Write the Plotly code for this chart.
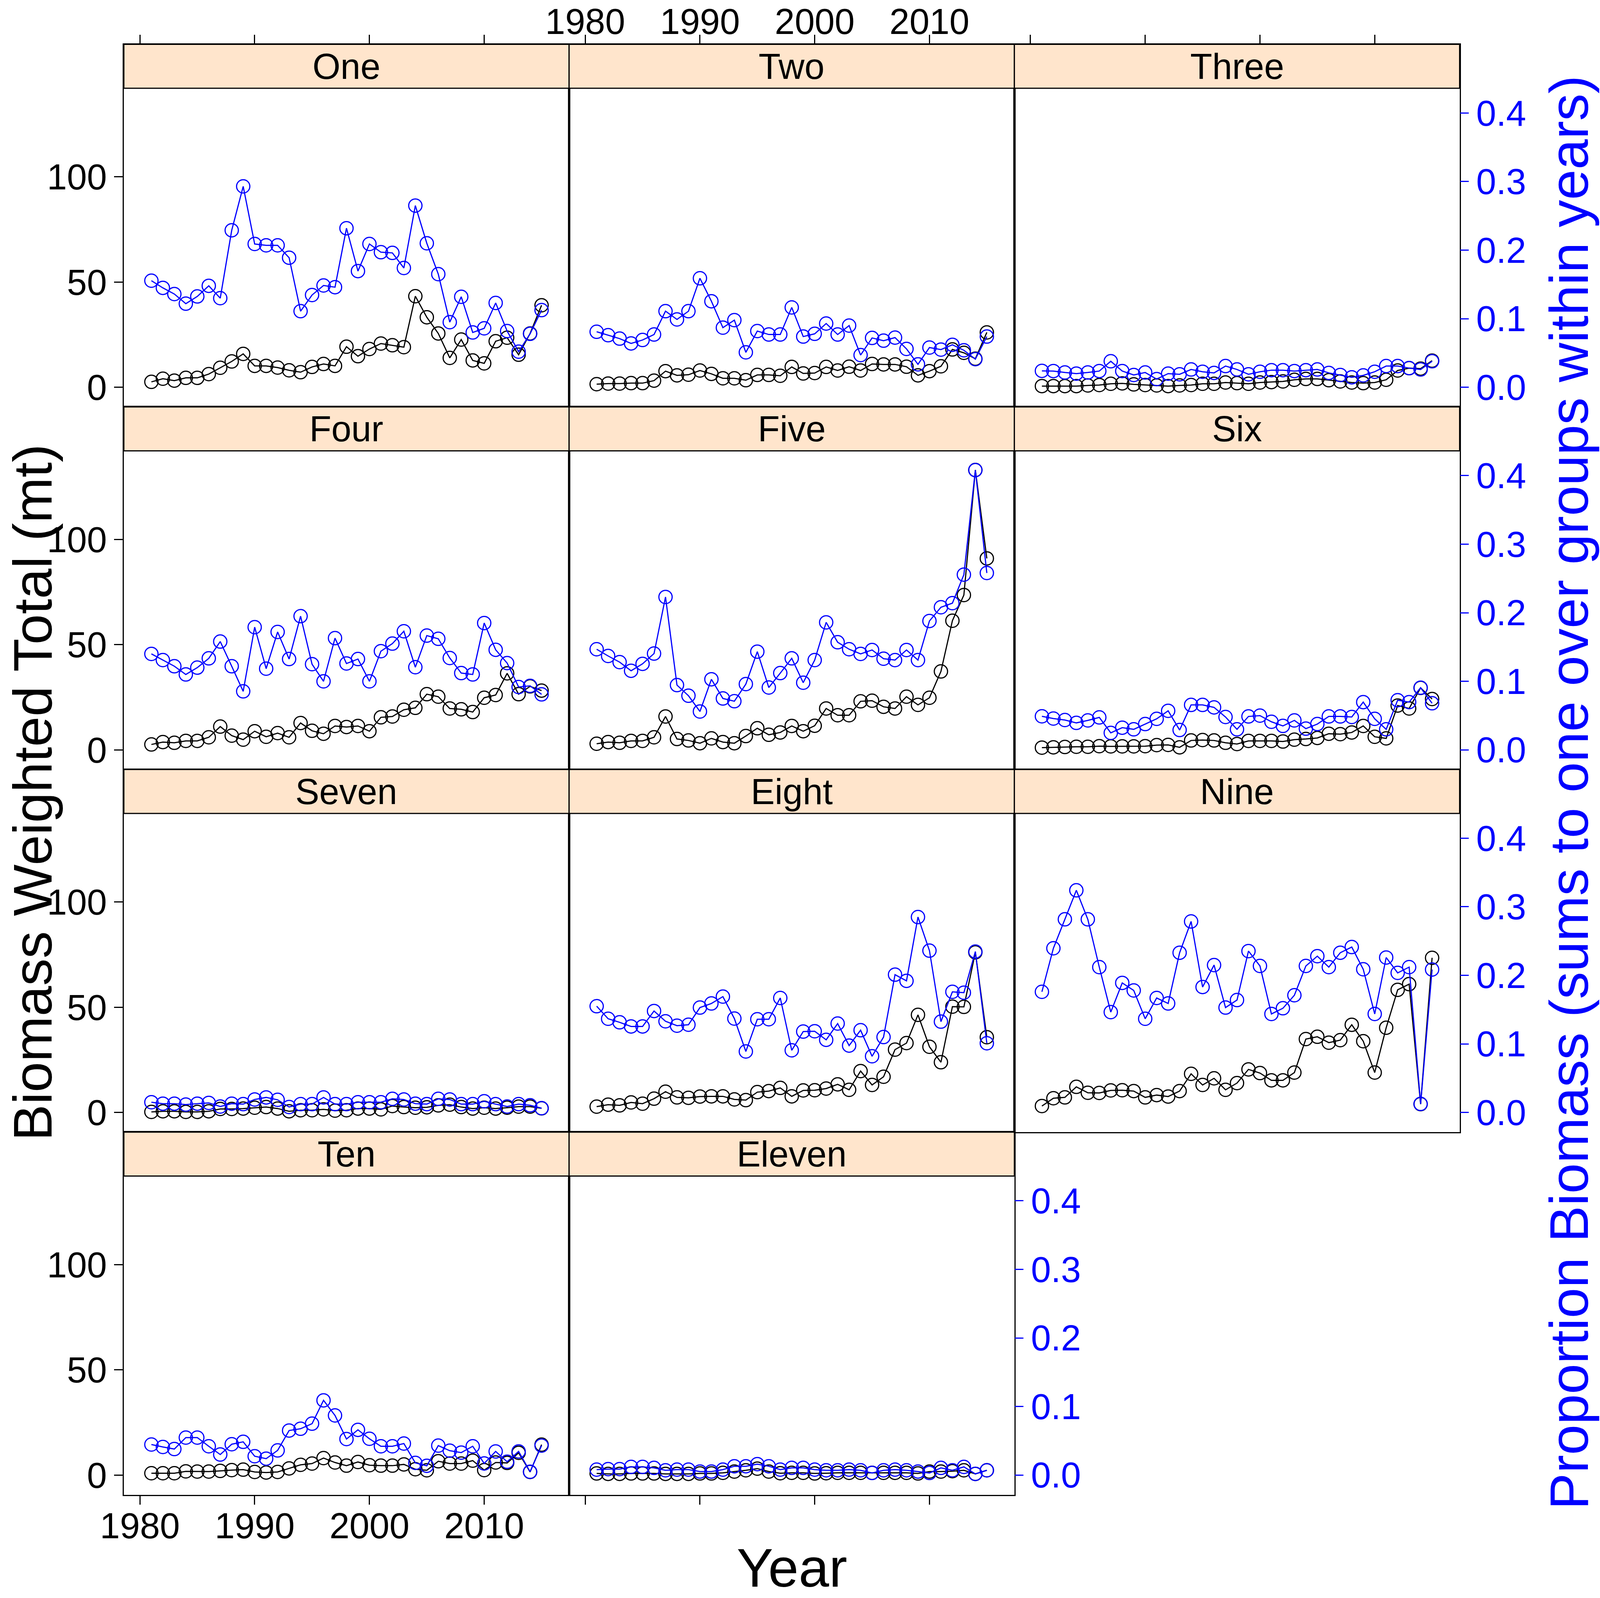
import plotly.graph_objects as go

# years on the x axis
years = [1981, 1982, 1983, 1984, 1985, 1986, 1987, 1988, 1989, 1990,
         1991, 1992, 1993, 1994, 1995, 1996, 1997, 1998, 1999, 2000,
         2001, 2002, 2003, 2004, 2005, 2006, 2007, 2008, 2009, 2010,
         2011, 2012, 2013, 2014, 2015]

groups = ["One", "Two", "Three", "Four", "Five", "Six",
          "Seven", "Eight", "Nine", "Ten", "Eleven"]

# biomass weighted total (mt), black series, left axis
one_total = [2.6, 4.1, 3.2, 4.5, 4.5, 6.3, 9.3, 12.3, 15.9, 10.2, 10.2, 9.4, 8.1, 7.2, 9.7, 11.1, 10.2, 19.3,
             14.8, 18.2, 20.8, 20.0, 19.1, 43.3, 33.3, 25.6, 14.0, 22.7, 12.8, 11.4, 21.9, 23.6, 15.5, 25.6, 39.0]
two_total = [1.5, 1.8, 1.8, 2.0, 2.0, 3.2, 7.7, 5.7, 6.0, 8.0, 6.4, 4.3, 4.3, 3.4, 5.9, 5.9, 5.5, 9.7,
             6.6, 6.8, 9.7, 8.0, 9.8, 8.0, 11.1, 10.9, 10.9, 9.8, 5.7, 7.7, 10.0, 18.0, 16.4, 13.6, 26.1]
three_total = [0.6, 0.6, 0.6, 0.6, 0.9, 1.1, 1.7, 1.9, 1.4, 1.1, 0.9, 0.6, 0.9, 1.1, 1.7, 1.7, 2.3, 2.0,
               1.7, 2.3, 2.5, 2.8, 3.6, 4.0, 4.0, 3.4, 2.8, 2.3, 2.0, 2.3, 3.6, 8.0, 9.1, 8.9, 12.7]
four_total = [2.6, 3.75, 3.4, 4.3, 4.3, 6.0, 11.1, 6.8, 4.9, 8.9, 6.25, 8.0, 6.0, 12.8, 9.1, 7.7, 11.4, 10.9,
              11.4, 8.9, 15.5, 15.9, 19.1, 20.0, 26.5, 25.3, 19.7, 19.3, 18.0, 24.8, 26.1, 36.4, 26.5, 30.2, 28.2]
five_total = [2.95, 3.75, 3.4, 4.3, 4.3, 6.0, 15.9, 5.2, 4.5, 3.2, 5.5, 3.75, 3.2, 6.6, 10.3, 7.2, 8.3, 11.4,
              8.9, 11.5, 19.7, 16.5, 16.5, 23.1, 23.4, 20.5, 19.7, 25.3, 21.4, 24.8, 37.3, 61.4, 73.6, 133.0, 91.0]
six_total = [1.1, 1.25, 1.4, 1.5, 1.5, 1.8, 1.7, 1.7, 1.7, 1.8, 2.3, 2.4, 1.25, 4.5, 4.7, 4.5, 3.4, 2.8,
             4.3, 4.3, 4.3, 4.0, 4.9, 5.2, 5.7, 7.7, 7.5, 8.3, 11.4, 6.25, 5.5, 21.1, 19.7, 29.5, 24.2]
seven_total = [0.3, 0.6, 0.6, 0.3, 0.3, 0.6, 1.7, 1.7, 1.9, 2.3, 2.6, 1.9, 0.6, 1.1, 1.1, 1.5, 0.9, 1.1,
               1.9, 1.9, 1.5, 3.1, 2.6, 2.3, 2.5, 3.4, 3.75, 2.6, 1.9, 2.3, 1.9, 2.3, 2.8, 2.8, 2.0]
eight_total = [2.8, 3.75, 3.4, 4.8, 4.2, 6.6, 9.9, 7.2, 7.0, 7.6, 7.7, 7.7, 6.25, 5.9, 9.7, 10.2, 11.7, 7.7,
               10.5, 10.6, 11.4, 13.4, 10.8, 19.7, 13.1, 17.0, 29.9, 33.0, 46.4, 31.25, 23.9, 50.3, 50.2, 76.1, 35.8]
nine_total = [3.1, 6.8, 7.2, 12.2, 9.4, 9.3, 10.5, 10.6, 10.2, 7.2, 8.3, 7.6, 10.2, 18.4, 13.1, 16.25, 10.8, 14.0,
              20.5, 18.75, 15.3, 15.3, 19.0, 34.9, 36.0, 33.2, 34.4, 41.7, 33.9, 19.0, 40.3, 58.3, 61.0, 4.0, 73.5]
ten_total = [0.9, 0.9, 0.9, 1.8, 1.7, 1.7, 2.0, 2.4, 2.6, 1.5, 1.25, 1.5, 3.2, 4.9, 5.5, 8.1, 6.0, 4.5,
             6.25, 4.7, 4.5, 4.5, 5.1, 2.8, 2.3, 6.6, 5.5, 5.5, 6.9, 2.4, 6.0, 5.8, 10.6, 1.5, 14.5]
eleven_total = [0.8, 0.6, 0.6, 0.8, 0.8, 0.8, 0.6, 0.6, 0.6, 0.8, 0.8, 1.1, 1.7, 2.3, 3.1, 1.7, 0.9, 1.1,
                1.1, 0.8, 0.9, 1.1, 1.1, 1.1, 1.1, 1.1, 1.1, 1.1, 0.8, 1.7, 1.7, 1.9, 2.3, 0.6, 2.3]

# proportion of biomass within year, blue series, right axis
one_prop = [0.1555, 0.145, 0.136, 0.122, 0.1325, 0.148, 0.130, 0.229, 0.293, 0.209, 0.207, 0.207, 0.189, 0.111,
            0.1346, 0.1485, 0.146, 0.232, 0.1695, 0.209, 0.197, 0.196, 0.174, 0.265, 0.210, 0.165, 0.095, 0.132,
            0.080, 0.086, 0.123, 0.082, 0.052, 0.078, 0.1126]
two_prop = [0.081, 0.076, 0.071, 0.064, 0.069, 0.077, 0.111, 0.099, 0.111, 0.159, 0.1255, 0.087, 0.098, 0.051,
            0.082, 0.077, 0.077, 0.1165, 0.074, 0.078, 0.093, 0.077, 0.090, 0.047, 0.072, 0.068, 0.0725, 0.056,
            0.0335, 0.058, 0.055, 0.062, 0.054, 0.041, 0.074]
three_prop = [0.024, 0.0237, 0.0216, 0.020, 0.0216, 0.0237, 0.038, 0.0237, 0.018, 0.0216, 0.012, 0.020, 0.019,
              0.026, 0.0227, 0.021, 0.031, 0.026, 0.019, 0.0227, 0.025, 0.025, 0.0237, 0.025, 0.026, 0.021, 0.018,
              0.0146, 0.0174, 0.0227, 0.031, 0.031, 0.028, 0.026, 0.038]
four_prop = [0.140, 0.131, 0.122, 0.110, 0.120, 0.1335, 0.158, 0.122, 0.0854, 0.179, 0.1185, 0.172, 0.1325, 0.195,
             0.125, 0.100, 0.163, 0.126, 0.1325, 0.100, 0.144, 0.155, 0.173, 0.1206, 0.1667, 0.162, 0.134, 0.112,
             0.110, 0.185, 0.146, 0.1266, 0.0917, 0.0934, 0.081]
five_prop = [0.1468, 0.137, 0.128, 0.1154, 0.1255, 0.1405, 0.223, 0.0945, 0.079, 0.056, 0.103, 0.075, 0.071, 0.096,
             0.1433, 0.091, 0.112, 0.1335, 0.098, 0.131, 0.186, 0.157, 0.1468, 0.140, 0.1457, 0.133, 0.131, 0.1457,
             0.131, 0.188, 0.208, 0.214, 0.2556, 0.408, 0.258]
six_prop = [0.049, 0.0457, 0.0436, 0.0394, 0.043, 0.0474, 0.0248, 0.0324, 0.030, 0.0377, 0.0453, 0.057, 0.029,
            0.0656, 0.0656, 0.062, 0.048, 0.030, 0.0488, 0.050, 0.041, 0.035, 0.043, 0.031, 0.0377, 0.0488, 0.0488,
            0.048, 0.0697, 0.0453, 0.030, 0.0725, 0.0697, 0.0907, 0.068]
seven_prop = [0.015, 0.0129, 0.0129, 0.0115, 0.0129, 0.014, 0.0087, 0.0129, 0.0122, 0.019, 0.022, 0.0185, 0.008,
              0.0122, 0.0122, 0.022, 0.0122, 0.0122, 0.015, 0.015, 0.015, 0.0199, 0.019, 0.0129, 0.0122, 0.0199,
              0.019, 0.0122, 0.0122, 0.0164, 0.0122, 0.0087, 0.0122, 0.0105, 0.0063]
eight_prop = [0.155, 0.1367, 0.1315, 0.1255, 0.1255, 0.148, 0.133, 0.1266, 0.128, 0.153, 0.159, 0.169, 0.137,
              0.089, 0.136, 0.136, 0.167, 0.0907, 0.118, 0.1185, 0.106, 0.1297, 0.0976, 0.120, 0.082, 0.110, 0.201,
              0.192, 0.285, 0.236, 0.1325, 0.176, 0.1747, 0.2347, 0.101]
nine_prop = [0.176, 0.2395, 0.2817, 0.324, 0.2817, 0.212, 0.1464, 0.189, 0.178, 0.1367, 0.167, 0.159, 0.233,
             0.2786, 0.183, 0.215, 0.153, 0.164, 0.2354, 0.2137, 0.1437, 0.152, 0.171, 0.2137, 0.228, 0.212, 0.233,
             0.2413, 0.2089, 0.1437, 0.226, 0.2036, 0.212, 0.0125, 0.2085]
ten_prop = [0.0446, 0.041, 0.038, 0.0547, 0.0547, 0.042, 0.030, 0.045, 0.0485, 0.0275, 0.024, 0.036, 0.065,
            0.0676, 0.075, 0.109, 0.087, 0.0526, 0.066, 0.053, 0.042, 0.042, 0.046, 0.0178, 0.0136, 0.043, 0.0356,
            0.0328, 0.042, 0.017, 0.0345, 0.0195, 0.0345, 0.0049, 0.043]
eleven_prop = [0.008, 0.0087, 0.0087, 0.012, 0.012, 0.0105, 0.007, 0.008, 0.008, 0.0052, 0.0052, 0.008, 0.0129,
               0.0129, 0.016, 0.0129, 0.008, 0.0105, 0.0105, 0.008, 0.007, 0.007, 0.008, 0.007, 0.0031, 0.007,
               0.008, 0.007, 0.0052, 0.0031, 0.0105, 0.007, 0.012, 0.0017, 0.007]

totals = [one_total, two_total, three_total, four_total, five_total, six_total,
          seven_total, eight_total, nine_total, ten_total, eleven_total]
props = [one_prop, two_prop, three_prop, four_prop, five_prop, six_prop,
         seven_prop, eight_prop, nine_prop, ten_prop, eleven_prop]

year_ticks = [1980, 1990, 2000, 2010]
total_ticks = [0, 50, 100]
prop_ticks = [0.0, 0.1, 0.2, 0.3, 0.4]

# page geometry (pixels)
W, H = 4205, 4092
LEFT, COL_W = 325.5, 1170.2
TOP, ROW_H, STRIP_H = 113.5, 928.5, 112.5
FONT = "Liberation Sans, Arial, sans-serif"
TICK_SIZE = 92
TITLE_SIZE = 140
STRIP_BG = "#FFE5CC"
BLUE = "#0000FF"

# axis ranges of the panel area; extended so the strip sits inside the domain
X_RANGE = [1978.6, 2017.4]
Y_LO, Y_HI_PANEL = -9.3, 142.1
P_LO, P_HI_PANEL = -0.0286, 0.4361
stretch = ROW_H / (ROW_H - STRIP_H)
Y_HI = Y_LO + (Y_HI_PANEL - Y_LO) * stretch
P_HI = P_LO + (P_HI_PANEL - P_LO) * stretch


def fx(px):
    return px / W


def fy(px):
    return 1 - px / H


fig = go.Figure()
layout = {}
shapes = []
annotations = []

for i, name in enumerate(groups):
    r, c = divmod(i, 3)
    x0 = LEFT + c * COL_W
    x1 = x0 + COL_W
    ytop = TOP + r * ROW_H
    ybot = ytop + ROW_H
    xn = "" if i == 0 else str(i + 1)
    yl = str(2 * i + 1) if i > 0 else ""
    yr = str(2 * i + 2)

    fig.add_trace(go.Scatter(
        x=years, y=totals[i], xaxis="x" + xn, yaxis="y" + yl,
        mode="lines+markers",
        line=dict(color="black", width=3),
        marker=dict(symbol="circle-open", size=34, color="black", line=dict(width=3)),
        showlegend=False,
    ))
    fig.add_trace(go.Scatter(
        x=years, y=props[i], xaxis="x" + xn, yaxis="y" + yr,
        mode="lines+markers",
        line=dict(color=BLUE, width=3),
        marker=dict(symbol="circle-open", size=34, color=BLUE, line=dict(width=3)),
        showlegend=False,
    ))

    xax = dict(
        domain=[fx(x0), fx(x1)], range=X_RANGE, anchor="y" + yl, automargin=False,
        tickvals=year_ticks, showgrid=False, zeroline=False,
        showline=True, mirror=True, linecolor="black", linewidth=3,
        ticklen=22, tickwidth=3, tickcolor="black",
        tickfont=dict(size=TICK_SIZE, color="black"),
    )
    if r == 0:
        xax.update(side="top", ticks="outside", showticklabels=(c == 1),
                   ticklabelstandoff=-35)
    elif i in (9, 10):
        xax.update(side="bottom", ticks="outside", showticklabels=(i == 9),
                   ticklabelstandoff=-24)
    else:
        xax.update(ticks="", showticklabels=False)
    layout["xaxis" + xn] = xax

    layout["yaxis" + yl] = dict(
        domain=[fy(ybot), fy(ytop)], range=[Y_LO, Y_HI], anchor="x" + xn,
        automargin=False, side="left", tickvals=total_ticks,
        showgrid=False, zeroline=False,
        showline=True, mirror=True, linecolor="black", linewidth=3,
        ticks="outside" if c == 0 else "", showticklabels=(c == 0),
        ticklen=22, tickwidth=3, tickcolor="black",
        tickfont=dict(size=TICK_SIZE, color="black"), ticklabelstandoff=0,
    )
    rightmost = c == 2 or i == 10
    layout["yaxis" + yr] = dict(
        overlaying="y" + yl, anchor="x" + xn, side="right", automargin=False,
        range=[P_LO, P_HI], tickvals=prop_ticks, tickformat=".1f",
        showgrid=False, zeroline=False, showline=False,
        ticks="outside" if rightmost else "", showticklabels=rightmost,
        ticklen=22, tickwidth=3, tickcolor=BLUE,
        tickfont=dict(size=TICK_SIZE, color=BLUE), ticklabelstandoff=1,
    )

    # strip with group name
    shapes.append(dict(
        type="rect", xref="paper", yref="paper",
        x0=fx(x0), x1=fx(x1), y0=fy(ytop + STRIP_H), y1=fy(ytop),
        fillcolor=STRIP_BG, line=dict(color="black", width=3), layer="above",
    ))
    annotations.append(dict(
        text=name, xref="paper", yref="paper",
        x=fx((x0 + x1) / 2), y=fy(ytop + STRIP_H / 2),
        xanchor="center", yanchor="middle", showarrow=False,
        font=dict(size=TICK_SIZE, color="black"),
    ))

annotations.append(dict(
    text="Biomass Weighted Total (mt)", xref="paper", yref="paper",
    x=fx(86), y=0.504, textangle=-90, xanchor="center", yanchor="middle",
    showarrow=False, font=dict(size=TITLE_SIZE, color="black"),
))
annotations.append(dict(
    text="Proportion Biomass (sums to one over groups within years)",
    xref="paper", yref="paper", x=fx(4124), y=0.504, textangle=-90,
    xanchor="center", yanchor="middle", showarrow=False,
    font=dict(size=TITLE_SIZE, color=BLUE),
))
annotations.append(dict(
    text="Year", xref="paper", yref="paper", x=fx(2081), y=fy(4014),
    xanchor="center", yanchor="middle", showarrow=False,
    font=dict(size=TITLE_SIZE, color="black"),
))

fig.update_layout(
    template="none",
    width=W, height=H, autosize=False,
    margin=dict(l=0, r=0, t=0, b=0, pad=0),
    paper_bgcolor="white", plot_bgcolor="white",
    font=dict(family=FONT, color="black"),
    showlegend=False, shapes=shapes, annotations=annotations,
    **layout,
)

# no page margin, and fit the figure to the visible window if it differs
fit_js = (
    "document.body.style.margin='0';"
    "document.body.style.overflow='hidden';"
    "var w = window.innerWidth, h = window.innerHeight;"
    "if (w > 1000 && h > 1000 && (w !== %d || h !== %d)) {"
    "  Plotly.relayout('{plot_id}', {width: w, height: h});"
    "}" % (W, H)
)
fig.write_html("out.html", config={"displayModeBar": False}, post_script=fit_js)
